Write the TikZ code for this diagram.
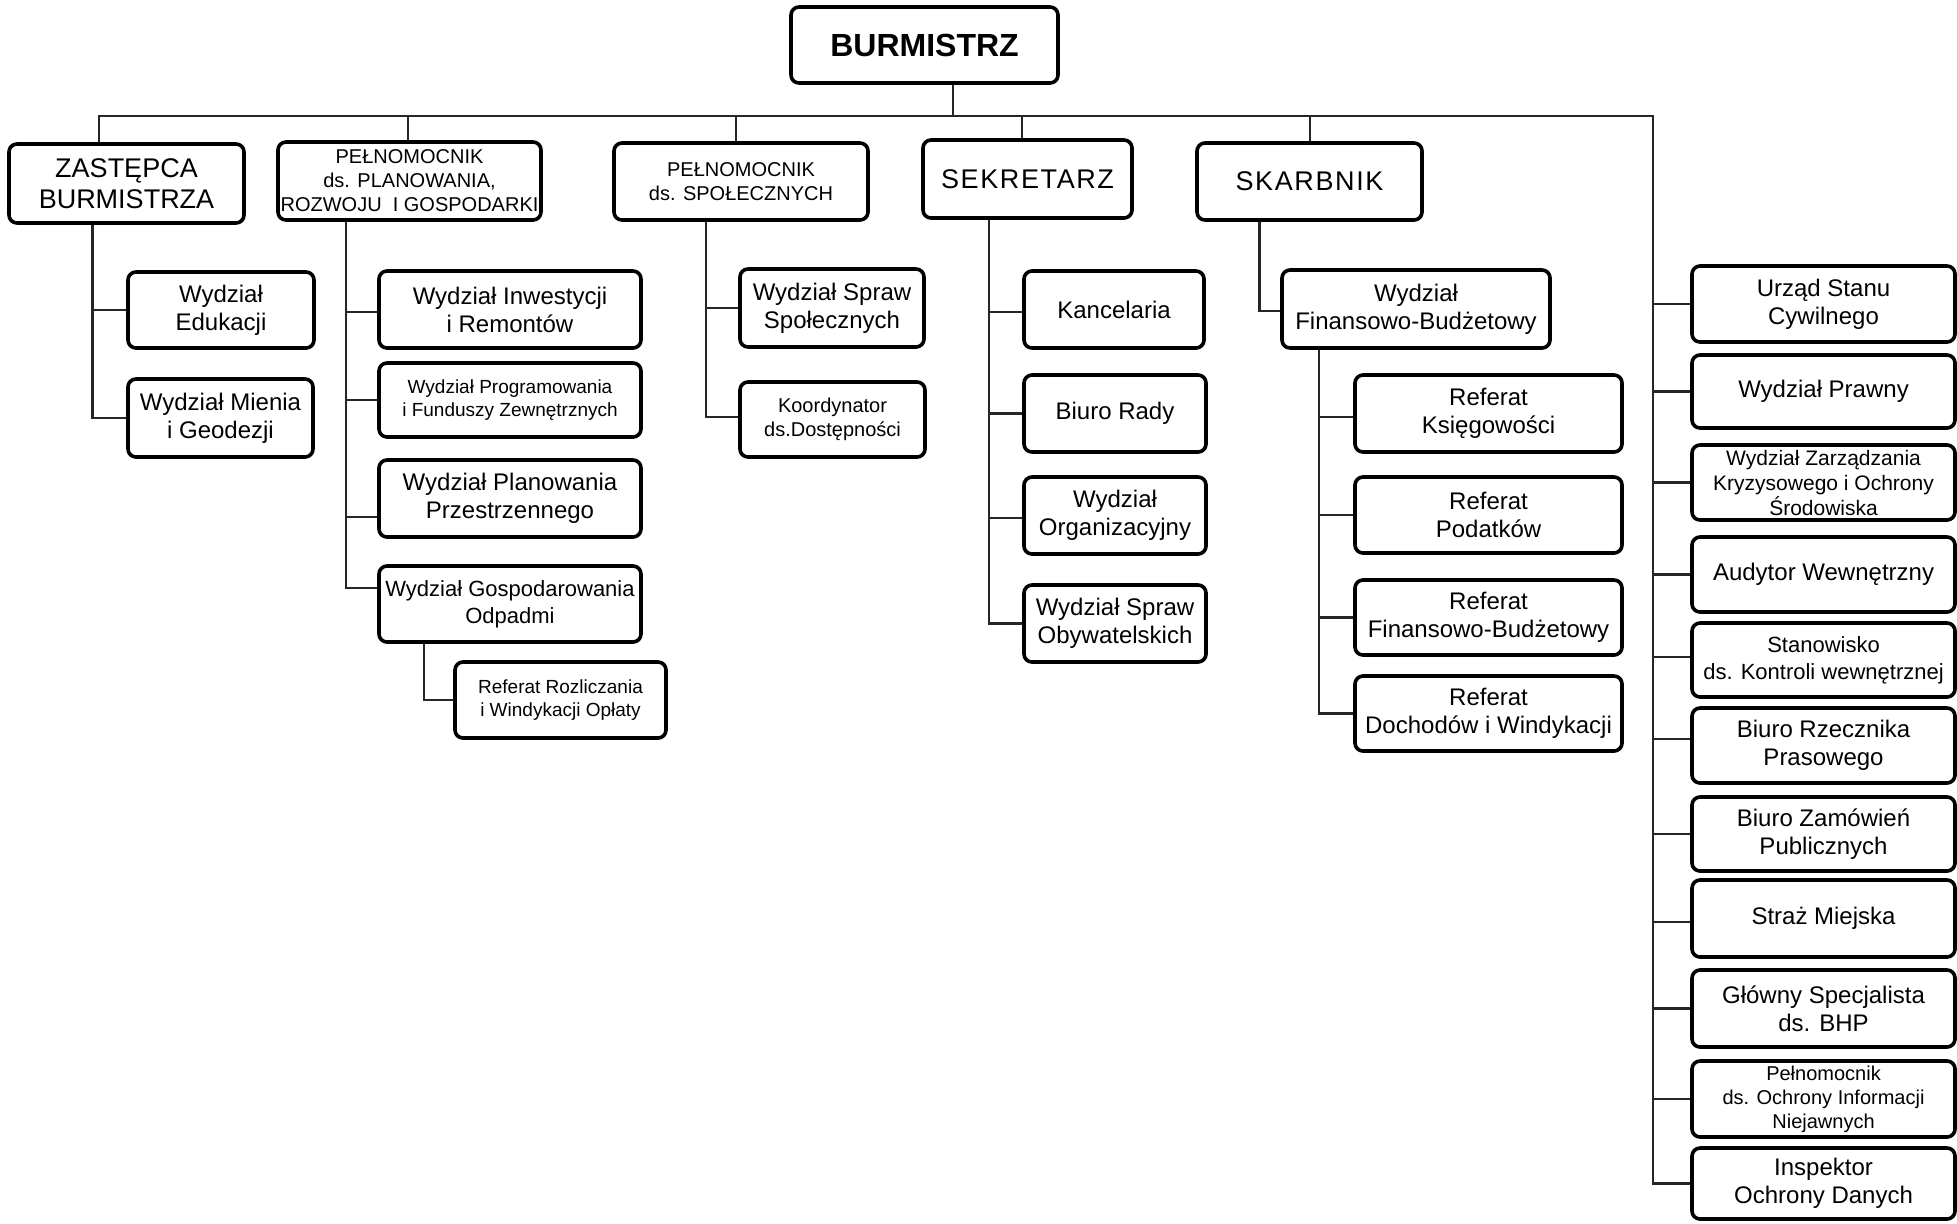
\documentclass[tikz,border=0pt]{standalone}
\usepackage{fontspec}
\setmainfont{Liberation Sans}
\newcommand\szN{\fontsize{12pt}{14pt}\selectfont}
\newcommand\szM{\fontsize{11pt}{13.5pt}\selectfont}
\newcommand\szS{\fontsize{9.5pt}{11.75pt}\selectfont}
\newcommand\szT{\fontsize{10pt}{12pt}\selectfont}
\newcommand\szU{\fontsize{10.5pt}{12.5pt}\selectfont}
\newcommand\szL{\fontsize{13.5pt}{15.5pt}\selectfont}
\newcommand\szLS{\fontsize{13.5pt}{15.5pt}\selectfont\addfontfeatures{LetterSpace=6}}
\newcommand\szB{\fontsize{16pt}{19pt}\selectfont\bfseries}
\begin{document}
\begin{tikzpicture}[x=0.5pt,y=-0.5pt,
  box/.style={draw=black, line width=1.8pt, rounded corners=4pt, fill=white,
    inner sep=0pt, align=center, font=\szN},
  conn/.style={draw=black!85, line width=1.1pt}]
\useasboundingbox (0,0) rectangle (1957,1223);
\fill[white] (0,0) rectangle (1957,1223);
% bus coordinates
\coordinate (b0) at (98,116);
\coordinate (b6) at (1653,116);
\coordinate (bs) at (953,116);
\coordinate (s1) at (99,116);
\coordinate (s2) at (408,116);
\coordinate (s3) at (736,116);
\coordinate (s4) at (1022,116);
\coordinate (s5) at (1310,116);
\coordinate (zv) at (92.5,0);
\coordinate (pv) at (346,0);
\coordinate (rv) at (424,0);
\coordinate (qv) at (706,0);
\coordinate (kv) at (989,0);
\coordinate (fv) at (1259.5,0);
\coordinate (gv) at (1319,0);

% top
\node[box, font=\szB, minimum width=133.5pt, minimum height=38pt] (bur) at (924.5,45) {BURMISTRZ};
% level 1
\node[box, font=\szL, minimum width=117.5pt, minimum height=39.5pt] (zast) at (126.5,183.5) {ZASTĘPCA\\BURMISTRZA};
\node[box, font=\szT, minimum width=131.5pt, minimum height=39pt] (ppl) at (409.5,181) {PEŁNOMOCNIK\\ds. PLANOWANIA,\\ROZWOJU\ \ I GOSPODARKI};
\node[box, font=\szT, minimum width=127pt, minimum height=38.5pt] (psp) at (741,181.5) {PEŁNOMOCNIK\\ds. SPOŁECZNYCH};
\node[box, font=\szLS, minimum width=104.5pt, minimum height=39pt] (sek) at (1027.5,179) {SEKRETARZ};
\node[box, font=\szLS, minimum width=112.5pt, minimum height=38.5pt] (ska) at (1309.5,181.5) {SKARBNIK};

% zastepca children
\node[box, minimum width=93pt, minimum height=38pt] (edu) at (221,310) {Wydział\\Edukacji};
\node[box, minimum width=92.5pt, minimum height=39pt] (mie) at (220.5,418) {Wydział Mienia\\i Geodezji};
% pelnomocnik planowania children
\node[box, minimum width=131pt, minimum height=38.5pt] (inw) at (510,309.5) {Wydział Inwestycji\\i Remontów};
\node[box, font=\szS, minimum width=131pt, minimum height=37pt] (pro) at (510,400) {Wydział Programowania\\i Funduszy Zewnętrznych};
\node[box, minimum width=131pt, minimum height=38.5pt] (pla) at (510,498.5) {Wydział Planowania\\Przestrzennego};
\node[box, font=\szM, minimum width=131pt, minimum height=38pt] (gos) at (510,604) {Wydział Gospodarowania\\Odpadmi};
\node[box, font=\szS, minimum width=105.5pt, minimum height=38pt] (roz) at (560.5,700) {Referat Rozliczania\\i Windykacji Opłaty};
% pelnomocnik spoleczny children
\node[box, minimum width=92pt, minimum height=39pt] (ssp) at (832,308) {Wydział Spraw\\Społecznych};
\node[box, font=\szT, minimum width=92.5pt, minimum height=37.5pt] (koo) at (832.5,419.5) {Koordynator\\ds.Dostępności};
% sekretarz children
\node[box, minimum width=90pt, minimum height=38.5pt] (kan) at (1114,309.5) {Kancelaria};
\node[box, minimum width=91pt, minimum height=38.5pt] (bra) at (1115,413.5) {Biuro Rady};
\node[box, minimum width=91pt, minimum height=38.5pt] (org) at (1115,515.5) {Wydział\\Organizacyjny};
\node[box, minimum width=91pt, minimum height=38.5pt] (oby) at (1115,623.5) {Wydział Spraw\\Obywatelskich};
% skarbnik children
\node[box, minimum width=134pt, minimum height=39pt] (fin) at (1416,309) {Wydział\\Finansowo-Budżetowy};
\node[box, minimum width=133.5pt, minimum height=38.5pt] (ksi) at (1488.5,413.5) {Referat\\Księgowości};
\node[box, minimum width=133.5pt, minimum height=38pt] (pod) at (1488.5,515) {Referat\\Podatków};
\node[box, minimum width=133.5pt, minimum height=37.5pt] (rfb) at (1488.5,617.5) {Referat\\Finansowo-Budżetowy};
\node[box, minimum width=133.5pt, minimum height=37.5pt] (doc) at (1488.5,713.5) {Referat\\Dochodów i Windykacji};
% right column
\node[box, minimum width=131.5pt, minimum height=38pt] (usc) at (1823.5,304) {Urząd Stanu\\Cywilnego};
\node[box, minimum width=131.5pt, minimum height=36.5pt] (wpr) at (1823.5,391.5) {Wydział Prawny};
\node[box, font=\szU, minimum width=131.5pt, minimum height=37.5pt] (wzk) at (1823.5,482.5) {Wydział Zarządzania\\Kryzysowego i Ochrony\\Środowiska};
\node[box, minimum width=131.5pt, minimum height=37.5pt] (aud) at (1823.5,574.5) {Audytor Wewnętrzny};
\node[box, font=\szM, minimum width=131.5pt, minimum height=37pt] (sta) at (1823.5,660) {Stanowisko\\ds. Kontroli wewnętrznej};
\node[box, minimum width=131.5pt, minimum height=37.5pt] (brz) at (1823.5,745.5) {Biuro Rzecznika\\Prasowego};
\node[box, minimum width=131.5pt, minimum height=37pt] (bzp) at (1823.5,834) {Biuro Zamówień\\Publicznych};
\node[box, minimum width=131.5pt, minimum height=38.5pt] (str) at (1823.5,918.5) {Straż Miejska};
\node[box, minimum width=131.5pt, minimum height=38.5pt] (bhp) at (1823.5,1008.5) {Główny Specjalista\\ds. BHP};
\node[box, font=\szT, minimum width=131.5pt, minimum height=38pt] (poi) at (1823.5,1099) {Pełnomocnik\\ds. Ochrony Informacji\\Niejawnych};
\node[box, minimum width=131.5pt, minimum height=35.5pt] (iod) at (1823.5,1183.5) {Inspektor\\Ochrony Danych};

% connector anchor points with offsets
\coordinate (gosc) at ([yshift=8pt]gos.west);
\coordinate (plac) at ([yshift=-9.25pt]pla.west);
\coordinate (inwc) at ([yshift=-1.25pt]inw.west);
\coordinate (kooc) at ([yshift=1.25pt]koo.west);
\coordinate (kanc) at ([yshift=-1.25pt]kan.west);
\coordinate (orgc) at ([yshift=-1.25pt]org.west);
\coordinate (fincon) at ([yshift=-1pt]fin.west);
\coordinate (ksic) at ([yshift=-1.75pt]ksi.west);
\coordinate (brzc) at ([yshift=3.25pt]brz.west);
\coordinate (stac) at ([yshift=1.5pt]sta.west);
\coordinate (strc) at ([yshift=-1.75pt]str.west);

% bus
\begin{scope}[on background layer/.style={}]
\draw[conn] (bur.south -| bs) -- (bs);
\draw[conn] (b0) -- (b6) -- (b6 |- iod.west) -- (iod.west);
\draw[conn] (s1) -- (zast.north -| s1);
\draw[conn] (s2) -- (ppl.north -| s2);
\draw[conn] (s3) -- (psp.north -| s3);
\draw[conn] (s4) -- (sek.north -| s4);
\draw[conn] (s5) -- (ska.north -| s5);
% zastepca
\draw[conn] (zast.south -| zv) -- (zv |- mie.west) -- (mie.west);
\draw[conn] (zv |- edu.west) -- (edu.west);
% planowanie
\draw[conn] (ppl.south -| pv) -- (pv |- gosc) -- (gosc);
\draw[conn] (pv |- inwc) -- (inwc);
\draw[conn] (pv |- pro.west) -- (pro.west);
\draw[conn] (pv |- plac) -- (plac);
\draw[conn] (gos.south -| rv) -- (rv |- roz.west) -- (roz.west);
% spoleczny
\draw[conn] (psp.south -| qv) -- (qv |- kooc) -- (kooc);
\draw[conn] (qv |- ssp.west) -- (ssp.west);
% sekretarz
\draw[conn] (sek.south -| kv) -- (kv |- oby.west) -- (oby.west);
\draw[conn] (kv |- kanc) -- (kanc);
\draw[conn] (kv |- bra.west) -- (bra.west);
\draw[conn] (kv |- orgc) -- (orgc);
% skarbnik
\draw[conn] (ska.south -| fv) -- (fv |- fincon) -- (fincon);
\draw[conn] (fin.south -| gv) -- (gv |- doc.west) -- (doc.west);
\draw[conn] (gv |- ksic) -- (ksic);
\draw[conn] (gv |- pod.west) -- (pod.west);
\draw[conn] (gv |- rfb.west) -- (rfb.west);
% right column
\draw[conn] (b6 |- usc.west) -- (usc.west);
\draw[conn] (b6 |- wpr.west) -- (wpr.west);
\draw[conn] (b6 |- wzk.west) -- (wzk.west);
\draw[conn] (b6 |- aud.west) -- (aud.west);
\draw[conn] (b6 |- stac) -- (stac);
\draw[conn] (b6 |- brzc) -- (brzc);
\draw[conn] (b6 |- bzp.west) -- (bzp.west);
\draw[conn] (b6 |- strc) -- (strc);
\draw[conn] (b6 |- bhp.west) -- (bhp.west);
\draw[conn] (b6 |- poi.west) -- (poi.west);
\end{scope}
\end{tikzpicture}
\end{document}
